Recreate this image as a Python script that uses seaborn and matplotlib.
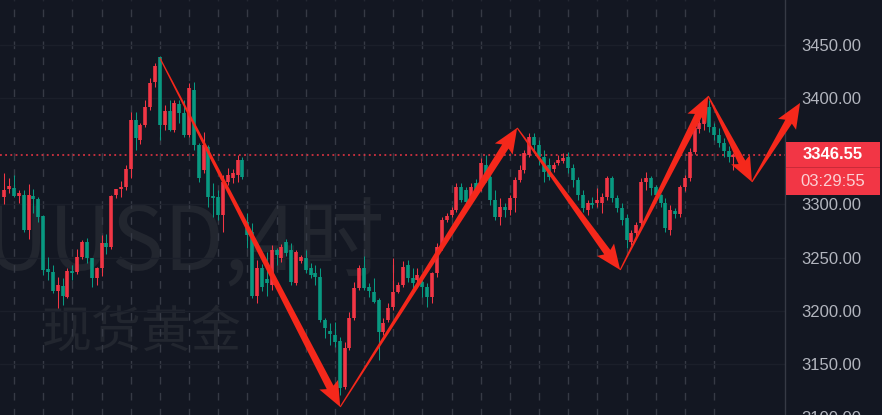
import numpy as np
import pandas as pd
import matplotlib
matplotlib.use("Agg")
import matplotlib.pyplot as plt
import seaborn as sns
import seaborn.objects as so
from matplotlib.patches import Polygon, Rectangle

# ---------------------------------------------------------------------------
# data: XAUUSD 4h candles
# ---------------------------------------------------------------------------
opens = [3307, 3314.6, 3315.5, 3308, 3309, 3276, 3308, 3305, 3289, 3239,
         3236.5, 3218.7, 3223.4, 3213, 3237.5, 3236.5, 3250.6, 3264.7, 3249.7, 3230.9,
         3240.3, 3263.8, 3260, 3309, 3314.6, 3316.4, 3333.4, 3379.5, 3360.6, 3374.8,
         3391.7, 3415.2, 3438.7, 3374.8, 3387.9, 3370, 3394.5, 3386, 3365.3, 3407.7,
         3356, 3332.4, 3354, 3308, 3307, 3290, 3321, 3325, 3327.7, 3342,
         3283.5, 3274, 3214, 3240.3, 3230, 3224.3, 3257, 3250, 3264.7, 3257.2,
         3226.2, 3246.9, 3249.7, 3240.3, 3235.6, 3231.8, 3191.4, 3181, 3177.3, 3171.6,
         3128.4, 3165, 3193.3, 3221.5, 3240.3, 3222.4, 3217.7, 3210.2, 3180.1, 3191.4,
         3203.6, 3217.7, 3224.3, 3243.1, 3230.9, 3229, 3227.1, 3222.4, 3213, 3235.6,
         3260, 3285.4, 3290.1, 3294.8, 3316.4, 3313.6, 3302.3, 3320, 3316.4, 3337.1,
         3325.8, 3304.2, 3288.2, 3297.6, 3294.8, 3306.1, 3323, 3332.4, 3346.6, 3363.5,
         3356, 3344.7, 3337.1, 3333.4, 3339, 3340.9, 3344.7, 3334, 3323, 3308.9,
         3294.8, 3301.4, 3301.4, 3301.4, 3307, 3324.9, 3306.1, 3296.7, 3287.3, 3264.7,
         3273.2, 3282.6, 3321.1, 3324.9, 3316, 3308.9, 3301.4, 3276, 3294, 3291,
         3316, 3325, 3349.4, 3371, 3375.7, 3391.7, 3372.9, 3365.3, 3357.8, 3350,
         3344.7]
highs = [3330, 3325, 3327.7, 3314, 3314, 3319.3, 3314.6, 3307, 3290, 3250.6,
         3243, 3231.8, 3231, 3240.3, 3243, 3258, 3266.5, 3268.5, 3250, 3241,
         3271.3, 3272, 3309, 3315, 3322, 3337.1, 3387, 3387, 3377, 3398.3,
         3419, 3433, 3440, 3393.6, 3398.3, 3398, 3398, 3398, 3414, 3415,
         3358, 3368, 3356, 3320, 3314, 3327.7, 3334, 3333, 3346.6, 3345,
         3292, 3282.6, 3247.8, 3244, 3255, 3262, 3259, 3263, 3268, 3263.8,
         3257, 3252.5, 3257, 3245, 3243, 3240, 3193.3, 3188.5, 3189.5, 3175.4,
         3170.7, 3198.9, 3227.1, 3243.1, 3251.5, 3226.2, 3230.9, 3212, 3193, 3207,
         3249.7, 3227, 3246.9, 3247.8, 3240.3, 3240.3, 3231.8, 3226.2, 3236.5, 3263.8,
         3288.2, 3292, 3297.6, 3320.2, 3320.2, 3316.4, 3320, 3324, 3343.7, 3346.6,
         3328, 3313.6, 3306, 3301.4, 3309, 3325.8, 3337, 3351.2, 3367.2, 3367.2,
         3360.6, 3351, 3343.7, 3340, 3346.6, 3348.4, 3349.4, 3338, 3325.8, 3313.6,
         3304.2, 3307, 3315.5, 3310.8, 3326.8, 3326.8, 3309, 3301.4, 3291, 3276,
         3283.5, 3324.9, 3330.5, 3326.8, 3318, 3310, 3306.1, 3299.5, 3296.7, 3318.3,
         3328, 3353, 3374.8, 3384, 3391, 3398.3, 3376.6, 3372, 3362.5, 3355,
         3348]
lows = [3300, 3310.8, 3307, 3301, 3274, 3267.5, 3292, 3283.5, 3233.7, 3229,
        3217, 3202.7, 3205.5, 3212, 3229, 3235, 3249, 3245, 3222.4, 3224.3,
        3233, 3253.4, 3258, 3306, 3307, 3314, 3325, 3351.2, 3357, 3373,
        3389, 3410.5, 3360.6, 3370, 3369, 3368, 3376.6, 3363.5, 3363, 3351.2,
        3321, 3329.6, 3297.6, 3288, 3285.4, 3274, 3318, 3320, 3321, 3324,
        3259, 3212, 3207.4, 3219, 3214, 3219.6, 3243, 3246, 3252, 3224.3,
        3224.3, 3245, 3235.6, 3230.9, 3224.3, 3189.5, 3174.5, 3167.9, 3166, 3120.8,
        3126.5, 3163.2, 3191.4, 3219.6, 3219.6, 3213, 3207.4, 3153.7, 3177, 3189.5,
        3200.8, 3216.8, 3222, 3227, 3217.7, 3226, 3213, 3203.6, 3207.4, 3231.8,
        3257.2, 3283.5, 3288, 3292.9, 3302.3, 3299.5, 3300.5, 3310, 3313, 3321,
        3299.5, 3285.4, 3280.7, 3288, 3290, 3293, 3321, 3330, 3345, 3349.4,
        3337, 3321, 3323, 3331, 3337, 3339, 3330, 3316, 3304.2, 3293,
        3290.1, 3297, 3297.6, 3292, 3304.2, 3302.3, 3293, 3280.7, 3259.1, 3262,
        3269.4, 3279.8, 3313.6, 3308.9, 3304.2, 3297.6, 3274.1, 3271.3, 3287.3, 3288,
        3313, 3322, 3347, 3367, 3370, 3368, 3360.6, 3354, 3345, 3340,
        3332.4]
closes = [3314, 3317.4, 3308, 3311, 3276, 3309, 3305, 3288, 3238.4, 3236.5,
          3218.7, 3224.3, 3214, 3237.5, 3236, 3250.6, 3264.7, 3249.7, 3230.9, 3240.3,
          3263.8, 3260, 3308, 3314.6, 3316.4, 3333.4, 3379.5, 3362.5, 3374.8, 3391.7,
          3414.2, 3430.2, 3374.8, 3387.9, 3370, 3395.4, 3386, 3365.3, 3409.5, 3356,
          3325, 3356, 3307, 3306, 3290, 3321, 3327.7, 3330, 3342, 3325.8,
          3271.3, 3214, 3240.3, 3222.4, 3226, 3257.2, 3252.5, 3260, 3254.4, 3227.1,
          3255.3, 3250.6, 3238.4, 3233.7, 3231.8, 3191.4, 3183.9, 3178.2, 3170.7, 3127.4,
          3165, 3193.3, 3221.5, 3240.3, 3221.5, 3218.7, 3208.3, 3180.1, 3188.5, 3202.7,
          3217.7, 3224.3, 3241.2, 3230.9, 3226.2, 3233.7, 3222.4, 3213, 3235.6, 3260,
          3285.4, 3289.2, 3294.8, 3316.4, 3304.2, 3302.3, 3316.4, 3313, 3339, 3325.8,
          3304.2, 3288.2, 3297.6, 3294.8, 3306.1, 3323, 3332.4, 3348.4, 3363.5, 3356,
          3344.7, 3330.5, 3325.8, 3337.1, 3341.8, 3343.7, 3334, 3323, 3308.9, 3296.7,
          3301.4, 3299.5, 3304.2, 3307, 3324.9, 3306.1, 3296.7, 3285.4, 3266.6, 3273.2,
          3280.7, 3321.1, 3324.9, 3315.5, 3308.9, 3301.4, 3277.9, 3294.8, 3291, 3316.4,
          3325, 3349.4, 3372, 3376.6, 3388, 3372.9, 3365.3, 3357.8, 3350, 3344.7,
          3346.55]

price_ticks = [3100, 3150, 3200, 3250, 3300, 3400, 3450]
countdown = "03:29:55"
symbol_text = "XAUUSD,4时"
name_text = "现货黄金"

# hand-drawn arrows: (candle index, price) waypoints
arrow_x = [32.0, 69.1, 105.5, 126.7, 144.8, 153.8, 163.7]
arrow_y = [3437.8, 3109.6, 3372.0, 3238.4, 3402.0, 3321.2, 3395.5]

# ---------------------------------------------------------------------------
BG = "#131722"
UP = "#f23645"
DOWN = "#089981"
ARROW = "#f5281b"
W, H = 882, 415

sns.set_theme(style="dark")
plt.rcParams["font.family"] = ["Liberation Sans", "DejaVu Sans"]

df = pd.DataFrame({"idx": np.arange(len(closes)), "open": opens, "high": highs,
                   "low": lows, "close": closes})
df["dir"] = np.where(df["close"] >= df["open"], "up", "down")
df["body_lo"] = df[["open", "close"]].min(axis=1)
df["body_hi"] = df[["open", "close"]].max(axis=1)
thin = (df["body_hi"] - df["body_lo"]) < 1.0
mid = (df["body_hi"] + df["body_lo"]) / 2
df.loc[thin, "body_lo"] = mid[thin] - 0.5
df.loc[thin, "body_hi"] = mid[thin] + 0.5

fig = plt.figure(figsize=(W / 100, H / 100), dpi=100, facecolor=BG)
ax = fig.add_axes([0, -0.03, 785 / W, 1.03])
ax.set_facecolor(BG)

(
    so.Plot(df, x="idx", color="dir")
    .add(so.Range(linewidth=0.75, artist_kws={"capstyle": "butt"}),
         ymin="low", ymax="high", legend=False)
    .add(so.Range(linewidth=2.6, artist_kws={"capstyle": "butt"}),
         ymin="body_lo", ymax="body_hi", legend=False)
    .scale(color=so.Nominal({"up": UP, "down": DOWN}))
    .on(ax)
    .plot()
)

ax.set_facecolor(BG)
ax.set_xlim(-0.885, 160.6)
ax.set_ylim(3090.3, 3492.3)
ax.set_xlabel("")
ax.set_ylabel("")

# daily vertical dashed grid, faint horizontal grid
ax.set_xticks(np.arange(2, len(closes), 6))
ax.tick_params(axis="x", length=0, labelbottom=False)
ax.set_axisbelow(True)
ax.grid(axis="x", color="#363a45", linestyle=(0, (5.5, 6)), linewidth=1)
ax.grid(axis="y", color="#1b1f2a", linestyle="-", linewidth=1)

ax.yaxis.tick_right()
ax.set_yticks(price_ticks, labels=[f"{v:.2f}" for v in price_ticks])
ax.tick_params(axis="y", length=0, pad=12, labelsize=12, labelcolor="#b2b5be")
for side in ["top", "bottom", "left"]:
    ax.spines[side].set_visible(False)
ax.spines["right"].set_color("#363a45")
ax.spines["right"].set_linewidth(1)

# last price line
last = closes[-1]
ax.axhline(last, color=UP, linestyle=(0, (1.2, 2.2)), linewidth=1.1, zorder=1.5)

# watermark
ax.text(385 / 785, 0.368, symbol_text, transform=ax.transAxes, ha="right", va="baseline",
        fontsize=63, color="#22262f", family=["Noto Sans CJK SC", "DejaVu Sans"], zorder=0)
ax.text(42 / 785, 0.221, name_text, transform=ax.transAxes, ha="left", va="center",
        fontsize=36, color="#22262f", family=["Noto Sans CJK SC", "DejaVu Sans"], zorder=0)

# arrows, drawn in pixel space so they can cross into the price scale
def arrow_shape(p0, p1, tail=0.6, neck=3.8, head_w=10.5, head_l=22):
    p0 = np.asarray(p0, float)
    p1 = np.asarray(p1, float)
    d = p1 - p0
    u = d / np.hypot(*d)
    n = np.array([-u[1], u[0]])
    base = p1 - u * head_l
    return np.array([p0 + n * tail, base + n * neck, base - u * 3 + n * head_w, p1,
                     base - u * 3 - n * head_w, base - n * neck, p0 - n * tail])

pix = ax.transData.transform(np.column_stack([arrow_x, arrow_y]))
for a, b in zip(pix[:-1], pix[1:]):
    pts = arrow_shape(a, b) / np.array([W, H])
    fig.add_artist(Polygon(pts, closed=True, transform=fig.transFigure,
                           facecolor=ARROW, edgecolor="none", zorder=5))

# price / countdown label on the scale
y_last = ax.transData.transform((0, last))[1]
fig.add_artist(Rectangle((786 / W, (y_last - 40) / H), 94 / W, 53 / H,
                         transform=fig.transFigure, facecolor=UP, edgecolor="none", zorder=6))
fig.add_artist(Rectangle((786 / W, (y_last - 13.5) / H), 94 / W, 1 / H,
                         transform=fig.transFigure, facecolor="#c92a38", edgecolor="none", zorder=6))
fig.text(833 / W, y_last / H, f"{last:.2f}", ha="center", va="center", fontsize=12,
         fontweight="bold", color="white", zorder=7)
fig.text(833 / W, (y_last - 27) / H, countdown, ha="center", va="center", fontsize=12,
         color="#fbd0d4", zorder=7)

fig.savefig("out.png", dpi=100, facecolor=BG)
